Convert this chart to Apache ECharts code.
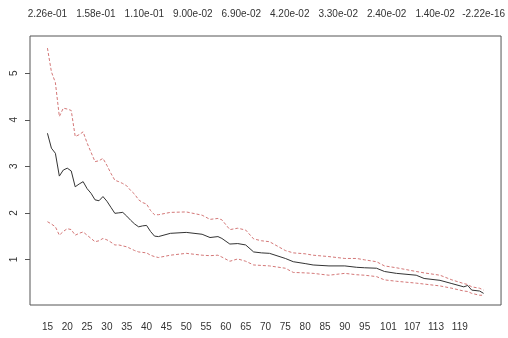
<!DOCTYPE html>
<html><head><meta charset="utf-8">
<script src="https://cdn.jsdelivr.net/npm/echarts@6/dist/echarts.min.js"></script>
<style>html,body{margin:0;padding:0;background:#fff}#c{width:508px;height:338px}</style>
</head><body><div id="c"></div>
<script>
// x positions (number of terms)
const xs = [15,16,17,18,19,20,21,22,23,24,25,26,27,28,29,30,31,32,33,34,35,36,37,38,39,40,41,42,43,46,50,54,56,58,59,61,63,65,67,69,71,75,77,80,82,86,90,93,95,98,100,103,108,110,114,117,120,121,122,124,125];
const meanVals = [3.71,3.39,3.28,2.79,2.92,2.96,2.90,2.56,2.62,2.67,2.52,2.42,2.28,2.26,2.35,2.25,2.12,1.99,2.00,2.01,1.93,1.84,1.76,1.70,1.72,1.73,1.60,1.50,1.49,1.56,1.58,1.54,1.47,1.49,1.45,1.33,1.34,1.31,1.16,1.14,1.13,1.02,0.95,0.91,0.88,0.86,0.86,0.83,0.82,0.81,0.74,0.70,0.66,0.59,0.55,0.48,0.41,0.44,0.34,0.32,0.27];
const upperVals = [5.54,5.03,4.80,4.07,4.25,4.23,4.20,3.64,3.68,3.74,3.50,3.30,3.10,3.12,3.17,3.02,2.85,2.70,2.67,2.63,2.58,2.48,2.40,2.28,2.22,2.19,2.05,1.96,1.96,2.01,2.02,1.95,1.86,1.88,1.85,1.64,1.67,1.63,1.44,1.40,1.38,1.19,1.14,1.12,1.09,1.06,1.02,1.02,0.99,0.95,0.86,0.82,0.74,0.71,0.66,0.56,0.48,0.46,0.41,0.38,0.34];
const lowerVals = [1.81,1.76,1.70,1.52,1.60,1.66,1.64,1.52,1.56,1.59,1.52,1.45,1.38,1.40,1.45,1.42,1.37,1.31,1.31,1.29,1.27,1.23,1.19,1.16,1.15,1.14,1.09,1.06,1.04,1.09,1.13,1.09,1.08,1.09,1.05,0.96,1.01,0.96,0.88,0.87,0.86,0.81,0.72,0.71,0.70,0.66,0.70,0.67,0.66,0.63,0.56,0.53,0.49,0.47,0.43,0.38,0.32,0.31,0.27,0.23,0.23];
const bottomTicks = [15,20,25,30,35,40,45,50,55,60,65,70,75,80,85,90,95,101,107,113,119];
const topTickPos = [15,27.22,39.44,51.67,63.89,76.11,88.33,100.56,112.78,125];
const topTickLabels = ['2.26e-01','1.58e-01','1.10e-01','9.00e-02','6.90e-02','4.20e-02','3.30e-02','2.40e-02','1.40e-02','-2.22e-16'];
const yTicks = [1,2,3,4,5];

const pair = v => xs.map((x,i)=>[x,v[i]]);
const font = {fontFamily:'Liberation Sans, Arial, sans-serif', fontSize:10, color:'#333'};
const chart = echarts.init(document.getElementById('c'), null, {renderer:'canvas'});
chart.setOption({
  animation:false,
  backgroundColor:'#fff',
  grid:{left:30,right:4,top:36,bottom:33,show:true,borderColor:'#555',borderWidth:1,backgroundColor:'transparent'},
  xAxis:[
    {type:'value',min:10.6,max:129.4,position:'bottom',splitLine:{show:false},axisLine:{show:false},axisTick:{show:false},
     axisLabel:Object.assign({customValues:bottomTicks,margin:17,showMinLabel:true,showMaxLabel:true},font)},
    {type:'value',min:10.6,max:129.4,position:'top',splitLine:{show:false},axisLine:{show:false},axisTick:{show:false},
     axisLabel:Object.assign({customValues:topTickPos,margin:17,formatter:(v)=>{const i=topTickPos.findIndex(p=>Math.abs(p-v)<0.01);return i>=0?topTickLabels[i]:'';}},font)}
  ],
  yAxis:{type:'value',min:0.02,max:5.80,splitLine:{show:false},axisLine:{show:false},
    axisTick:{show:true,customValues:yTicks,length:5,lineStyle:{color:'#555'}},
    axisLabel:Object.assign({customValues:yTicks,rotate:90,margin:11},font)},
  series:[
    {type:'line',data:pair(upperVals),symbol:'none',lineStyle:{color:'#d47878',width:1,type:[3,2]}},
    {type:'line',data:pair(lowerVals),symbol:'none',lineStyle:{color:'#d47878',width:1,type:[3,2]}},
    {type:'line',data:pair(meanVals),symbol:'none',lineStyle:{color:'#333',width:1}}
  ]
});
</script></body></html>
